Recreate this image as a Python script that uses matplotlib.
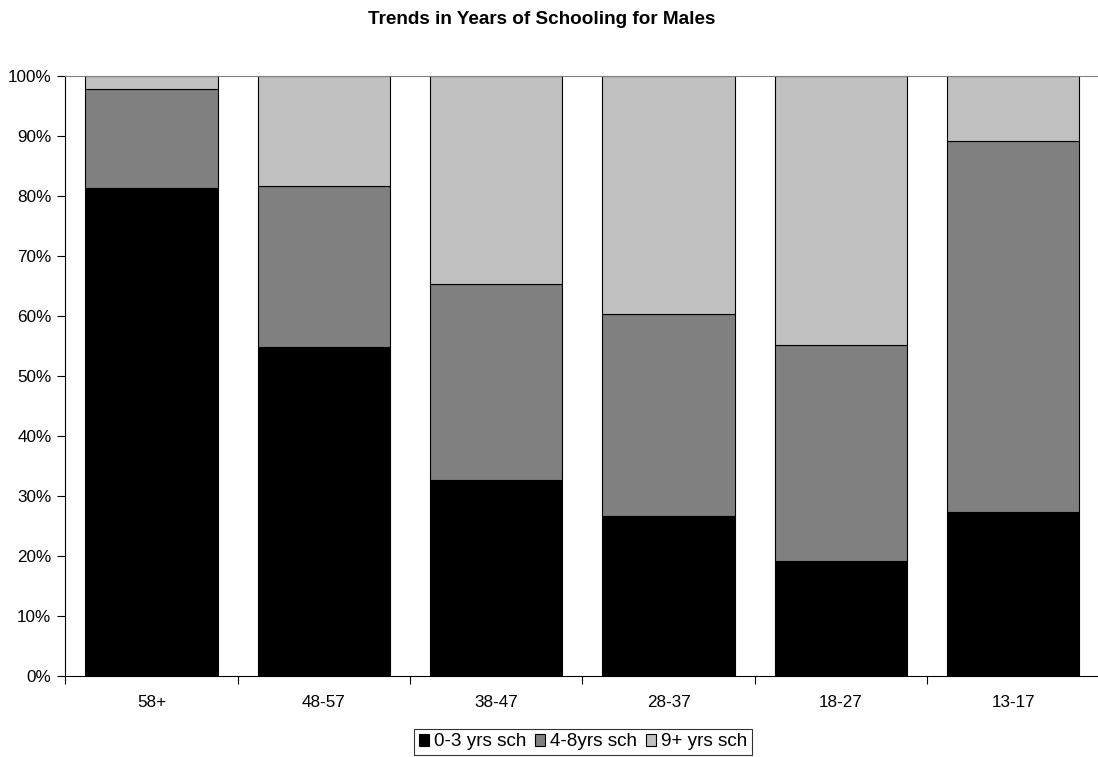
import matplotlib
matplotlib.use('Agg')
import matplotlib.pyplot as plt
import numpy as np
from matplotlib.ticker import FuncFormatter

plt.rcParams['font.family'] = ['Liberation Sans', 'DejaVu Sans']

age_groups = ['58+', '48-57', '38-47', '28-37', '18-27', '13-17']
sch_0_3 = [81.3, 54.8, 32.6, 26.7, 19.2, 27.3]
sch_4_8 = [16.5, 26.8, 32.7, 33.6, 36.0, 61.8]
sch_9_plus = [2.2, 18.4, 34.7, 39.7, 44.8, 10.9]

series = [('0-3 yrs sch', sch_0_3, '#000000'),
          ('4-8yrs sch', sch_4_8, '#808080'),
          ('9+ yrs sch', sch_9_plus, '#c0c0c0')]

fig = plt.figure(figsize=(10.98, 7.57), dpi=100)
ax = fig.add_axes([65.3 / 1098, 81 / 757, 1034.2 / 1098, 600 / 757])

x = np.arange(len(age_groups))
bottom = np.zeros(len(age_groups))
for label, vals, color in series:
    ax.bar(x, vals, 0.767, bottom=bottom, color=color, edgecolor='black',
           linewidth=0.8, label=label)
    bottom += np.array(vals)

ax.set_xlim(-0.5, len(age_groups) - 0.5)
ax.set_ylim(0, 100)
ax.set_yticks(np.arange(0, 101, 10))
ax.yaxis.set_major_formatter(FuncFormatter(lambda v, p: f'{int(v)}%'))

# ticks on category boundaries, labels in the middle
ax.set_xticks(np.arange(-0.5, len(age_groups), 1))
ax.set_xticklabels([])
ax.set_xticks(x, minor=True)
ax.set_xticklabels(age_groups, minor=True)
ax.tick_params(axis='x', which='minor', length=0, pad=14, labelsize=12.3)
ax.tick_params(axis='x', which='major', length=6, width=0.8, direction='out')
ax.tick_params(axis='y', length=6, width=0.8, labelsize=12.3, pad=4)

ax.spines['top'].set_color('#808080')
ax.spines['right'].set_visible(False)
ax.spines['left'].set_linewidth(0.8)
ax.spines['bottom'].set_linewidth(0.8)

fig.text(541.7 / 1098, 1 - 20 / 757, 'Trends in Years of Schooling for Males',
         ha='center', va='center', fontsize=13.6, fontweight='bold')

leg = fig.legend(loc='center', bbox_to_anchor=(583 / 1098, 1 - 742 / 757),
                 ncol=3, fontsize=13.6, frameon=True, fancybox=False,
                 handlelength=0.55, handleheight=0.55, handletextpad=0.25,
                 columnspacing=0.45, borderpad=0.25, borderaxespad=0)
leg.get_frame().set_edgecolor('black')
leg.get_frame().set_linewidth(0.8)

fig.savefig('out.png', dpi=100)
